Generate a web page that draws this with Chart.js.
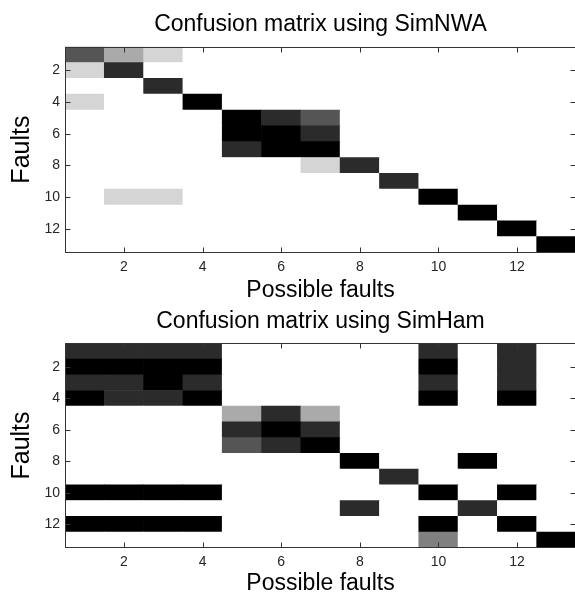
<!DOCTYPE html>
<html>
<head>
<meta charset="utf-8">
<script src="https://cdn.jsdelivr.net/npm/chart.js@4/dist/chart.umd.min.js"></script>
<style>
  html, body { margin: 0; padding: 0; background: #fff; overflow: hidden; width: 575px; height: 596px; }
  canvas { position: absolute; left: 0; }
  #top { top: 0; }
  #bottom { top: 305px; }
</style>
</head>
<body>
<canvas id="top" width="580" height="305"></canvas>
<canvas id="bottom" width="580" height="293"></canvas>
<script>
// ---- data ----
const faults = [1, 2, 3, 4, 5, 6, 7, 8, 9, 10, 11, 12, 13];
const tickValues = [2, 4, 6, 8, 10, 12];
const maxLevel = 6;

// Confusion matrix using SimNWA (rows = faults, columns = possible faults)
const simNWA = [
  [4, 2, 1, 0, 0, 0, 0, 0, 0, 0, 0, 0, 0],
  [1, 5, 0, 0, 0, 0, 0, 0, 0, 0, 0, 0, 0],
  [0, 0, 5, 0, 0, 0, 0, 0, 0, 0, 0, 0, 0],
  [1, 0, 0, 6, 0, 0, 0, 0, 0, 0, 0, 0, 0],
  [0, 0, 0, 0, 6, 5, 4, 0, 0, 0, 0, 0, 0],
  [0, 0, 0, 0, 6, 6, 5, 0, 0, 0, 0, 0, 0],
  [0, 0, 0, 0, 5, 6, 6, 0, 0, 0, 0, 0, 0],
  [0, 0, 0, 0, 0, 0, 1, 5, 0, 0, 0, 0, 0],
  [0, 0, 0, 0, 0, 0, 0, 0, 5, 0, 0, 0, 0],
  [0, 1, 1, 0, 0, 0, 0, 0, 0, 6, 0, 0, 0],
  [0, 0, 0, 0, 0, 0, 0, 0, 0, 0, 6, 0, 0],
  [0, 0, 0, 0, 0, 0, 0, 0, 0, 0, 0, 6, 0],
  [0, 0, 0, 0, 0, 0, 0, 0, 0, 0, 0, 0, 6]
];

// Confusion matrix using SimHam
const simHam = [
  [5, 5, 5, 5, 0, 0, 0, 0, 0, 5, 0, 5, 0],
  [6, 6, 6, 6, 0, 0, 0, 0, 0, 6, 0, 5, 0],
  [5, 5, 6, 5, 0, 0, 0, 0, 0, 5, 0, 5, 0],
  [6, 5, 5, 6, 0, 0, 0, 0, 0, 6, 0, 6, 0],
  [0, 0, 0, 0, 2, 5, 2, 0, 0, 0, 0, 0, 0],
  [0, 0, 0, 0, 5, 6, 5, 0, 0, 0, 0, 0, 0],
  [0, 0, 0, 0, 4, 5, 6, 0, 0, 0, 0, 0, 0],
  [0, 0, 0, 0, 0, 0, 0, 6, 0, 0, 6, 0, 0],
  [0, 0, 0, 0, 0, 0, 0, 0, 5, 0, 0, 0, 0],
  [6, 6, 6, 6, 0, 0, 0, 0, 0, 6, 0, 6, 0],
  [0, 0, 0, 0, 0, 0, 0, 5, 0, 0, 5, 0, 0],
  [6, 6, 6, 6, 0, 0, 0, 0, 0, 6, 0, 6, 0],
  [0, 0, 0, 0, 0, 0, 0, 0, 0, 3, 0, 0, 6]
];

// ---- helpers ----
function cells(matrix) {
  const out = [];
  matrix.forEach((row, i) => row.forEach((v, j) => {
    out.push({ x: faults[j], y: [faults[i] - 0.5, faults[i] + 0.5], v: v });
  }));
  return out;
}
function grey(v) {
  const g = Math.round(255 - v * 255 / maxLevel);
  return 'rgb(' + g + ',' + g + ',' + g + ')';
}

const FONT = "'Liberation Sans', Arial, Helvetica, sans-serif";

const boxPlugin = {
  id: 'boxTicks',
  afterDraw(chart) {
    const { ctx, chartArea: a, scales: { x, y } } = chart;
    ctx.save();
    ctx.strokeStyle = '#333';
    ctx.lineWidth = 1;
    const L = Math.round(a.left) + 0.5, R = Math.round(a.right) - 0.5;
    const T = Math.round(a.top) + 0.5, B = Math.round(a.bottom) - 0.5;
    ctx.strokeRect(L, T, R - L, B - T);
    const tl = 5;
    ctx.beginPath();
    tickValues.forEach(v => {
      const px = Math.round(x.getPixelForValue(v)) + 0.5;
      ctx.moveTo(px, T); ctx.lineTo(px, T + tl);
      ctx.moveTo(px, B); ctx.lineTo(px, B - tl);
      const py = Math.round(y.getPixelForValue(v)) + 0.5;
      ctx.moveTo(L, py); ctx.lineTo(L + tl, py);
      ctx.moveTo(R, py); ctx.lineTo(R - tl, py);
    });
    ctx.stroke();
    ctx.restore();
  }
};

function makeChart(id, matrix, titleText, titlePad, xHeight) {
  return new Chart(document.getElementById(id), {
    type: 'bar',
    data: {
      datasets: [{
        data: cells(matrix),
        backgroundColor: ctx => grey(ctx.raw ? ctx.raw.v : 0),
        borderWidth: 0,
        barPercentage: 1,
        categoryPercentage: 1
      }]
    },
    options: {
      responsive: false,
      animation: false,
      devicePixelRatio: 1,
      events: [],
      layout: { padding: { left: 0, right: 4, top: 0, bottom: 0 } },
      plugins: {
        legend: { display: false },
        tooltip: { enabled: false },
        title: {
          display: true,
          text: titleText,
          fullSize: false,
          color: '#000',
          font: { family: FONT, size: 23, weight: 'normal', lineHeight: 1.2 },
          padding: titlePad
        }
      },
      scales: {
        x: {
          type: 'linear',
          min: 0.5, max: 13.5,
          offset: false,
          afterBuildTicks: s => { s.ticks = tickValues.map(v => ({ value: v })); },
          afterFit: s => { s.height = xHeight; },
          grid: { display: false, drawTicks: false, offset: false },
          border: { display: false },
          ticks: {
            autoSkip: false, maxRotation: 0, padding: 5.8,
            color: '#262626',
            font: { family: FONT, size: 14 },
            callback: v => String(v)
          },
          title: {
            display: true, text: 'Possible faults', color: '#000',
            font: { family: FONT, size: 23, lineHeight: 1.2 },
            padding: { top: 0, bottom: 1 }
          }
        },
        y: {
          type: 'linear',
          reverse: true,
          min: 0.5, max: 13.5,
          beginAtZero: false,
          afterBuildTicks: s => { s.ticks = tickValues.map(v => ({ value: v })); },
          afterFit: s => { s.width = 65; },
          grid: { display: false, drawTicks: false },
          border: { display: false },
          ticks: {
            autoSkip: false, padding: 5,
            color: '#262626',
            font: { family: FONT, size: 14 },
            callback: v => String(v)
          },
          title: {
            display: true, text: 'Faults', color: '#000',
            font: { family: FONT, size: 25, lineHeight: 1.2 },
            padding: { top: 7, bottom: 0 }
          }
        }
      }
    },
    plugins: [boxPlugin]
  });
}

makeChart('top', simNWA, 'Confusion matrix using SimNWA', { top: 10.7, bottom: 8.4 }, 52.5);
makeChart('bottom', simHam, 'Confusion matrix using SimHam', { top: 2.4, bottom: 8.3 }, 50.3);
</script>
</body>
</html>
